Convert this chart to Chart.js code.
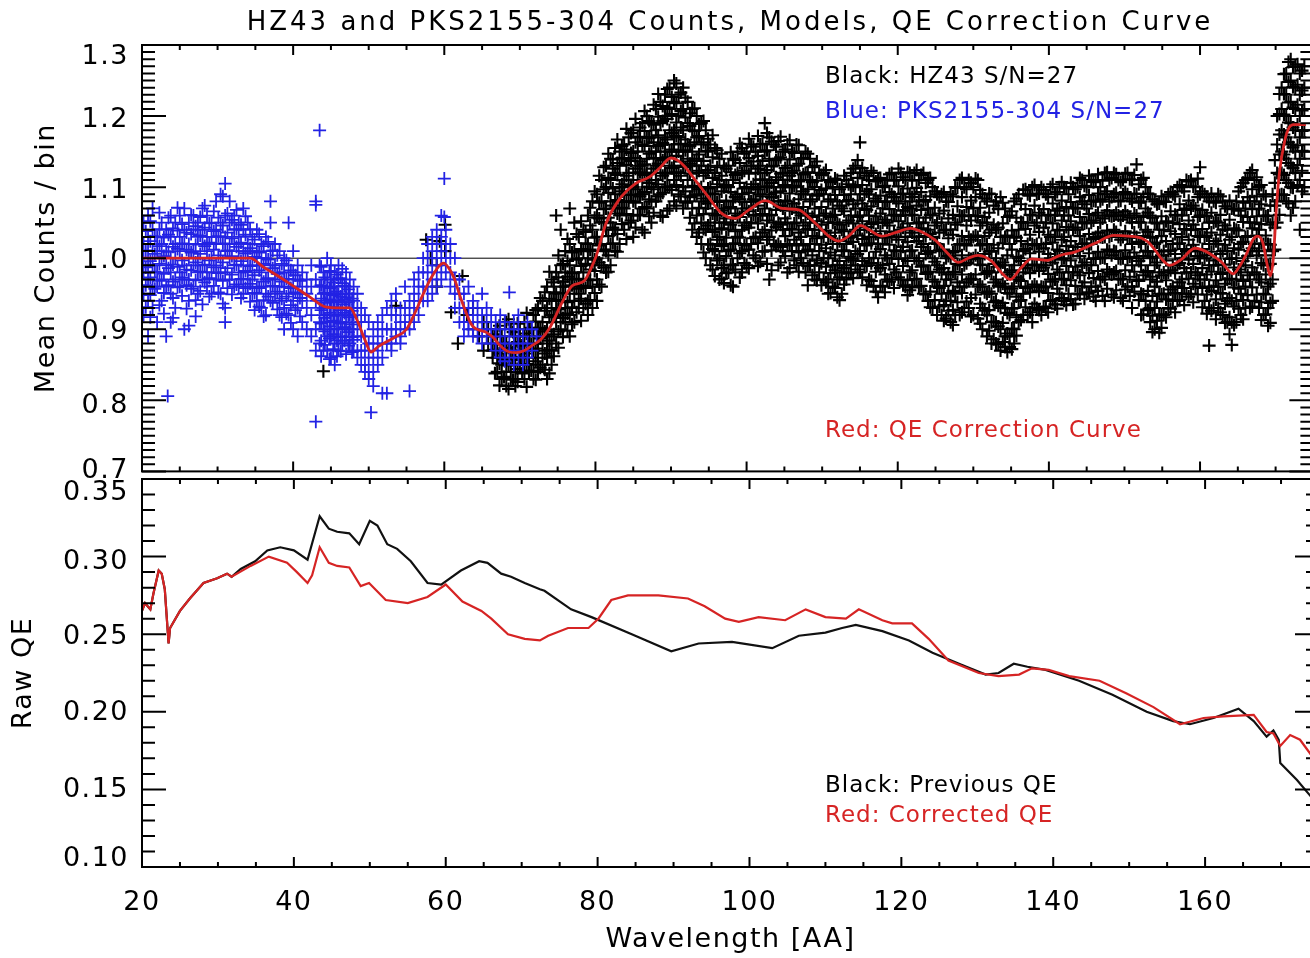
<!DOCTYPE html>
<html>
<head>
<meta charset="utf-8">
<title>HZ43 and PKS2155-304 Counts, Models, QE Correction Curve</title>
<script src="https://cdn.jsdelivr.net/npm/chart.js@4.4.1/dist/chart.umd.min.js"></script>
<style>
  html, body { margin: 0; padding: 0; background: #fff; overflow: hidden; }
  #wrap { position: relative; width: 1310px; height: 958px; overflow: hidden; background: #fff; }
  #wrap canvas { position: absolute; left: 0; }
  #countsChart { top: 0; }
  #qeChart { top: 478px; }
</style>
</head>
<body>
<div id="wrap">
  <canvas id="countsChart" width="1322" height="480"></canvas>
  <canvas id="qeChart" width="1322" height="480"></canvas>
</div>
<script>
// values
const waveMin = 20, waveMax = 175;
const unityLevel = 1.0;

// red QE correction curve, top panel
const corrWave = [20, 24, 28, 32, 34.3, 36, 38, 40, 42, 44.4, 46, 47.5, 48.5, 49.5, 50.3, 51.3, 52.3, 53.5, 55, 56.2,
  57.1, 58.4, 59.9, 60.6, 61.3, 62.2, 63.7, 65.5, 66.5, 67.3, 68.6, 69.5, 70.6, 71.6, 72.8, 73.9, 75.6, 76.9, 78.5, 79.3,
  80.1, 81.4, 83.1, 85.3, 87.1, 88.5, 90.0, 91.0, 91.9, 93.2, 94.6, 96.7, 98.5, 100.3, 102.5, 104.7, 106.9, 108.3, 109.6, 111.0,
  112.2, 113.5, 115.1, 116.2, 117.9, 119.7, 121.7, 123.0, 125.0, 126.5, 128.0, 129.3, 130.6, 132.4, 133.7, 134.9, 136.2, 137.7, 139.8, 141.5,
  143.5, 146.1, 148.6, 150.5, 152.3, 153.2, 154.0, 155.0, 156.0, 157.5, 159.3, 160.2, 161.2, 162.8, 164.4, 165.2, 166.1, 167.0, 167.6, 168.3,
  168.9, 169.3, 169.7, 170.1, 170.5, 171.2, 171.8, 172.4, 174.0];
const corrCounts = [1.0, 1.0, 1.0, 1.0, 1.0, 0.988, 0.975, 0.961, 0.947, 0.931, 0.930, 0.930, 0.912, 0.885, 0.868, 0.876, 0.882, 0.889, 0.900, 0.925,
  0.947, 0.975, 0.993, 0.986, 0.972, 0.943, 0.905, 0.896, 0.888, 0.878, 0.868, 0.867, 0.870, 0.877, 0.886, 0.901, 0.938, 0.961, 0.968, 0.983,
  1.003, 1.049, 1.082, 1.105, 1.114, 1.127, 1.141, 1.137, 1.128, 1.110, 1.091, 1.063, 1.056, 1.068, 1.081, 1.070, 1.068, 1.057, 1.044, 1.030,
  1.024, 1.031, 1.046, 1.040, 1.031, 1.036, 1.042, 1.038, 1.025, 1.008, 0.994, 1.000, 1.004, 0.996, 0.980, 0.970, 0.985, 0.999, 0.997, 1.004,
  1.009, 1.021, 1.032, 1.031, 1.028, 1.022, 1.012, 0.998, 0.990, 0.998, 1.014, 1.012, 1.007, 0.995, 0.978, 0.988, 1.005, 1.026, 1.031, 1.022,
  0.990, 0.975, 1.000, 1.070, 1.120, 1.165, 1.184, 1.188, 1.188];

// previous QE (black) and corrected QE (red), bottom panel
const prevWave = [20, 20.4, 21.1, 21.5, 22.2, 22.6, 23.0, 23.5, 23.7, 25.0, 26.3, 28.1, 29.9, 31.2, 31.8, 33.0, 34.9, 36.5, 38.2, 40.0,
  41.8, 43.4, 44.6, 45.7, 47.3, 48.6, 50.0, 51.0, 52.3, 53.6, 55.4, 57.6, 59.4, 62.0, 64.4, 65.5, 67.3, 68.6, 70.4, 72.4,
  73.0, 76.5, 79.2, 84.5, 89.7, 93.3, 97.7, 103.0, 106.5, 110.0, 112.2, 114.0, 117.5, 121.0, 124.1, 127.6, 131.1, 132.8, 134.8, 136.6,
  139.0, 143.4, 147.8, 152.3, 155.8, 158.0, 161.1, 164.4, 166.4, 168.1, 169.0, 169.7, 169.9, 172.1, 174.0];
const prevQE = [0.265, 0.270, 0.266, 0.276, 0.291, 0.289, 0.279, 0.244, 0.254, 0.265, 0.273, 0.283, 0.286, 0.289, 0.287, 0.292, 0.297, 0.304, 0.306, 0.304,
  0.298, 0.326, 0.318, 0.316, 0.315, 0.308, 0.323, 0.320, 0.308, 0.305, 0.297, 0.283, 0.282, 0.291, 0.297, 0.296, 0.289, 0.287, 0.283, 0.279,
  0.278, 0.266, 0.261, 0.250, 0.239, 0.244, 0.245, 0.241, 0.249, 0.251, 0.254, 0.256, 0.252, 0.246, 0.238, 0.231, 0.224, 0.225, 0.231, 0.229,
  0.227, 0.220, 0.211, 0.200, 0.194, 0.192, 0.196, 0.202, 0.194, 0.184, 0.188, 0.182, 0.167, 0.156, 0.145];
const newWave = [20, 20.4, 21.1, 21.5, 22.2, 22.6, 23.0, 23.5, 23.7, 25.0, 26.3, 28.1, 29.9, 31.2, 31.8, 34.3, 36.7, 39.1, 40.4, 41.8,
  42.4, 43.4, 44.6, 45.7, 47.3, 48.8, 49.9, 52.1, 55.0, 57.6, 60.0, 62.2, 64.7, 66.0, 68.2, 70.4, 72.4, 73.5, 76.1, 78.8,
  80.1, 81.8, 84.0, 88.0, 91.9, 94.1, 96.8, 98.6, 101.2, 104.7, 107.4, 110.0, 112.7, 114.4, 117.5, 118.8, 121.4, 123.6, 126.2, 130.2,
  132.8, 135.5, 137.2, 139.4, 142.1, 146.1, 149.6, 153.2, 156.7, 159.8, 162.4, 166.4, 168.1, 169.0, 169.9, 171.2, 172.5, 174.0];
const newQE = [0.265, 0.270, 0.266, 0.276, 0.291, 0.289, 0.279, 0.244, 0.254, 0.265, 0.273, 0.283, 0.286, 0.289, 0.287, 0.294, 0.300, 0.296, 0.290, 0.283,
  0.288, 0.306, 0.296, 0.294, 0.293, 0.281, 0.283, 0.272, 0.270, 0.274, 0.282, 0.271, 0.265, 0.260, 0.250, 0.247, 0.246, 0.249, 0.254, 0.254,
  0.260, 0.272, 0.275, 0.275, 0.273, 0.268, 0.260, 0.258, 0.261, 0.259, 0.266, 0.261, 0.260, 0.266, 0.259, 0.257, 0.257, 0.247, 0.233, 0.225,
  0.223, 0.224, 0.228, 0.227, 0.223, 0.220, 0.212, 0.203, 0.192, 0.196, 0.197, 0.198, 0.187, 0.186, 0.178, 0.185, 0.182, 0.172];

// PKS2155-304 binned counts (blue), one row per wavelength column: [wave, counts...]
const pksCols = [
  [20.2, 1.05, 1.02, 1.00, 0.98, 0.95, 0.92], [20.8, 1.06, 1.03, 1.01, 0.99, 0.97, 0.94, 0.89],
  [21.4, 1.07, 1.04, 1.01, 0.99, 0.96, 0.93], [22.0, 1.03, 1.01, 0.98, 0.96, 0.91],
  [22.6, 1.05, 1.02, 1.00, 0.97, 0.94], [23.2, 1.04, 1.01, 0.99, 0.96, 0.89], [23.4, 0.806],
  [23.8, 1.06, 1.03, 1.00, 0.98, 0.95, 0.91], [24.4, 1.05, 1.02, 1.00, 0.97, 0.93],
  [25.0, 1.06, 1.03, 1.01, 0.98, 0.96], [25.6, 1.07, 1.04, 1.02, 0.99, 0.97, 0.90],
  [26.2, 1.05, 1.02, 1.00, 0.97, 0.94, 0.905], [26.8, 1.06, 1.04, 1.01, 0.99, 0.96],
  [27.4, 1.05, 1.03, 1.00, 0.98, 0.95], [28.0, 1.07, 1.04, 1.02, 0.99, 0.97, 0.935],
  [28.6, 1.06, 1.03, 1.01, 0.98, 0.96], [29.2, 1.05, 1.03, 1.00, 0.98, 0.95],
  [29.8, 1.08, 1.04, 1.02, 0.99, 0.97], [30.4, 1.09, 1.05, 1.03, 1.00, 0.98, 0.95],
  [31.0, 1.105, 1.06, 1.03, 1.01, 0.98, 0.93, 0.91], [31.6, 1.08, 1.05, 1.02, 1.00, 0.97],
  [32.2, 1.06, 1.04, 1.02, 0.99, 0.96], [32.8, 1.05, 1.03, 1.01, 0.98, 0.96],
  [33.4, 1.07, 1.04, 1.01, 0.99, 0.97, 0.95], [34.0, 1.05, 1.02, 1.00, 0.98, 0.96],
  [34.6, 1.03, 1.01, 0.99, 0.97, 0.95], [35.2, 1.04, 1.01, 0.99, 0.96, 0.94],
  [35.8, 1.02, 1.00, 0.98, 0.96, 0.93], [36.4, 1.03, 1.00, 0.97, 0.95, 0.92],
  [37.0, 1.08, 1.05, 1.01, 0.99, 0.96, 0.94], [37.6, 1.02, 0.99, 0.97, 0.95],
  [38.2, 1.01, 0.98, 0.96, 0.94, 0.92], [38.8, 1.00, 0.98, 0.96, 0.93, 0.90],
  [39.4, 1.05, 0.99, 0.97, 0.95, 0.92], [40.0, 1.01, 0.98, 0.96, 0.94, 0.90],
  [40.6, 0.99, 0.97, 0.95, 0.93, 0.89], [41.2, 0.98, 0.96, 0.94, 0.91],
  [41.8, 0.97, 0.95, 0.93, 0.90], [42.4, 0.99, 0.96, 0.92, 0.89],
  [43.0, 1.08, 1.075, 0.97, 0.94, 0.90, 0.87, 0.77], [43.5, 1.18, 0.99, 0.96, 0.93, 0.91, 0.88],
  [44.0, 0.98, 0.96, 0.95, 0.93, 0.92, 0.90, 0.87], [44.5, 1.00, 0.97, 0.95, 0.94, 0.92, 0.91, 0.89, 0.87],
  [45.0, 0.99, 0.97, 0.96, 0.94, 0.93, 0.91, 0.89, 0.86], [45.5, 0.98, 0.96, 0.95, 0.93, 0.92, 0.90, 0.88, 0.85],
  [46.0, 0.99, 0.97, 0.95, 0.94, 0.92, 0.91, 0.89, 0.87], [46.5, 0.985, 0.965, 0.95, 0.935, 0.92, 0.90, 0.88],
  [47.0, 0.98, 0.96, 0.945, 0.93, 0.91, 0.89, 0.865], [47.5, 0.97, 0.95, 0.93, 0.92, 0.90, 0.88],
  [48.0, 0.96, 0.94, 0.92, 0.90, 0.885, 0.87], [48.5, 0.95, 0.93, 0.91, 0.89, 0.87, 0.86],
  [49.0, 0.93, 0.91, 0.89, 0.87, 0.85], [49.5, 0.92, 0.89, 0.87, 0.85, 0.84],
  [50.0, 0.91, 0.88, 0.86, 0.84, 0.83], [50.3, 0.783], [50.6, 0.90, 0.88, 0.86, 0.84, 0.82],
  [51.2, 0.91, 0.89, 0.87, 0.85], [51.8, 0.92, 0.90, 0.88, 0.86, 0.81],
  [52.4, 0.93, 0.90, 0.88, 0.81], [53.0, 0.94, 0.92, 0.90, 0.88, 0.87],
  [53.6, 0.95, 0.92, 0.90, 0.89], [54.2, 0.93, 0.91, 0.89, 0.88],
  [54.8, 0.96, 0.93, 0.91, 0.90], [55.4, 0.94, 0.92, 0.90, 0.813],
  [56.0, 0.97, 0.95, 0.93, 0.91], [56.6, 0.98, 0.96, 0.94, 0.92],
  [57.2, 1.00, 0.98, 0.96, 0.94], [57.8, 1.02, 1.00, 0.98, 0.96, 0.94],
  [58.4, 1.03, 1.01, 0.99, 0.97, 0.95], [59.0, 1.04, 1.02, 1.00, 0.98, 0.96],
  [59.6, 1.06, 1.03, 1.01, 0.99, 0.97], [60.0, 1.112, 1.058],
  [60.2, 1.04, 1.02, 1.00, 0.98], [60.8, 1.02, 1.00, 0.98, 0.96],
  [61.4, 1.00, 0.97, 0.95, 0.93], [62.0, 0.97, 0.95, 0.93, 0.91],
  [62.6, 0.95, 0.93, 0.91, 0.89], [63.2, 0.96, 0.93, 0.91, 0.90],
  [63.8, 0.94, 0.92, 0.90, 0.89], [64.4, 0.93, 0.91, 0.89],
  [65.0, 0.95, 0.92, 0.90, 0.88], [65.6, 0.93, 0.91, 0.89],
  [66.2, 0.92, 0.90, 0.88], [66.8, 0.91, 0.89, 0.87],
  [67.4, 0.92, 0.90, 0.88, 0.86], [68.0, 0.91, 0.89, 0.87, 0.855],
  [68.6, 0.952, 0.90, 0.88, 0.86], [69.2, 0.91, 0.89, 0.87, 0.85],
  [69.8, 0.92, 0.90, 0.88, 0.86], [70.4, 0.89, 0.87, 0.85],
  [71.0, 0.91, 0.88, 0.86], [71.6, 0.90, 0.87], [72.2, 0.89]
];
// second pass of PKS2155-304 columns, read between the ones above
const pksColsB = [
  [20.5, 1.038, 1.011, 0.987, 0.962, 0.931], [21.1, 1.052, 1.024, 0.996, 0.973, 0.948, 0.917],
  [21.7, 1.031, 1.006, 0.981, 0.957], [22.3, 1.064, 1.041, 1.017, 0.992, 0.968, 0.934],
  [22.9, 1.029, 1.003, 0.978, 0.951, 0.922], [23.5, 1.057, 1.033, 1.009, 0.986, 0.962],
  [24.1, 1.042, 1.016, 0.991, 0.967, 0.944, 0.916], [24.7, 1.071, 1.039, 1.013, 0.988, 0.959],
  [25.3, 1.048, 1.021, 0.997, 0.973, 0.947], [25.9, 1.036, 1.012, 0.984, 0.962, 0.929],
  [26.5, 1.061, 1.034, 1.008, 0.983, 0.957], [27.1, 1.045, 1.019, 0.994, 0.969, 0.941, 0.918],
  [27.7, 1.058, 1.032, 1.006, 0.981, 0.954], [28.3, 1.074, 1.043, 1.017, 0.991, 0.966],
  [28.9, 1.049, 1.022, 0.997, 0.972, 0.946], [29.5, 1.066, 1.038, 1.012, 0.987, 0.961],
  [30.1, 1.057, 1.031, 1.004, 0.979, 0.952], [30.7, 1.087, 1.046, 1.021, 0.994, 0.968, 0.936],
  [31.3, 1.063, 1.036, 1.011, 0.986, 0.958], [31.9, 1.054, 1.028, 1.003, 0.977, 0.949],
  [32.5, 1.068, 1.041, 1.016, 0.991, 0.963], [33.1, 1.047, 1.022, 0.996, 0.971, 0.944],
  [33.7, 1.059, 1.033, 1.007, 0.982, 0.958], [34.3, 1.041, 1.014, 0.989, 0.964, 0.939],
  [34.9, 1.026, 1.002, 0.976, 0.951, 0.927], [35.5, 1.034, 1.008, 0.983, 0.958, 0.932],
  [36.1, 1.017, 0.992, 0.967, 0.941, 0.918], [36.7, 1.023, 0.998, 0.972, 0.946],
  [37.3, 1.011, 0.986, 0.961, 0.937], [37.9, 1.004, 0.978, 0.953, 0.928],
  [38.5, 0.992, 0.967, 0.943, 0.917], [39.1, 0.997, 0.971, 0.946, 0.922],
  [39.7, 0.983, 0.958, 0.934, 0.909], [40.3, 0.976, 0.952, 0.927], [40.9, 0.968, 0.944, 0.918],
  [43.7, 0.988, 0.962, 0.943, 0.927, 0.908, 0.884, 0.862], [44.2, 0.973, 0.951, 0.937, 0.916, 0.897, 0.878],
  [44.8, 0.982, 0.958, 0.942, 0.923, 0.904, 0.887, 0.858], [45.3, 0.966, 0.948, 0.931, 0.912, 0.893, 0.872],
  [45.8, 0.977, 0.953, 0.938, 0.919, 0.901, 0.884, 0.862], [46.3, 0.972, 0.946, 0.927, 0.908, 0.889, 0.869],
  [46.8, 0.961, 0.942, 0.923, 0.903, 0.884], [47.3, 0.956, 0.938, 0.917, 0.896, 0.877],
  [47.8, 0.943, 0.926, 0.907, 0.889, 0.868]
];

// HZ43 binned counts (black), one row per wavelength column: [wave, counts...]
const hzCols = [
  [44.0, 0.841], [53.6, 0.933], [57.6, 1.026], [58.2, 1.00], [59.0, 0.99, 0.96], [59.4, 1.024],
  [60.1, 1.047, 1.01], [60.9, 0.924], [61.8, 0.88], [62.4, 0.975], [63.0, 0.92], [63.8, 0.90, 0.93],
  [64.6, 0.89], [65.2, 0.91, 0.87], [65.8, 0.90, 0.88], [66.4, 0.89, 0.87, 0.86],
  [67.0, 0.90, 0.88, 0.86, 0.84], [67.6, 0.89, 0.87, 0.85, 0.83], [68.2, 0.91, 0.88, 0.86, 0.84, 0.82],
  [68.8, 0.90, 0.87, 0.85, 0.83], [69.4, 0.89, 0.87, 0.86, 0.84, 0.82], [70.0, 0.90, 0.88, 0.86, 0.85],
  [70.6, 0.91, 0.89, 0.87, 0.85, 0.83], [71.2, 0.90, 0.88, 0.86, 0.84], [71.8, 0.92, 0.89, 0.87, 0.85, 0.83],
  [72.4, 0.93, 0.90, 0.88, 0.86, 0.84], [73.0, 0.94, 0.91, 0.89, 0.87, 0.85],
  [73.6, 0.96, 0.93, 0.90, 0.88, 0.86, 0.83], [74.2, 0.97, 0.94, 0.92, 0.89, 0.87, 0.85],
  [74.8, 1.06, 0.98, 0.95, 0.93, 0.91, 0.88], [75.4, 1.04, 0.99, 0.96, 0.94, 0.92, 0.90],
  [76.0, 1.01, 0.98, 0.96, 0.93, 0.91], [76.6, 1.07, 1.02, 0.99, 0.97, 0.95, 0.92, 0.89],
  [77.2, 1.05, 1.01, 0.98, 0.96, 0.94, 0.91], [77.8, 1.03, 1.00, 0.97, 0.95, 0.93],
  [78.4, 1.04, 1.01, 0.98, 0.96, 0.93], [79.0, 1.06, 1.02, 1.00, 0.97, 0.94, 0.92],
  [79.6, 1.08, 1.04, 1.01, 0.99, 0.96, 0.93], [80.2, 1.09, 1.06, 1.03, 1.00, 0.97, 0.94],
  [80.8, 1.11, 1.08, 1.05, 1.02, 0.99, 0.96], [81.4, 1.13, 1.10, 1.07, 1.04, 1.01, 0.98],
  [82.0, 1.14, 1.11, 1.08, 1.05, 1.02, 0.99], [82.6, 1.155, 1.12, 1.09, 1.07, 1.04, 1.01],
  [83.2, 1.15, 1.13, 1.10, 1.08, 1.06, 1.02], [83.8, 1.16, 1.14, 1.11, 1.09, 1.07, 1.04],
  [84.4, 1.17, 1.14, 1.12, 1.10, 1.08, 1.05], [85.0, 1.18, 1.15, 1.12, 1.10, 1.08, 1.06, 1.03],
  [85.6, 1.17, 1.15, 1.13, 1.11, 1.09, 1.06], [86.2, 1.19, 1.16, 1.13, 1.11, 1.09, 1.07, 1.04],
  [86.8, 1.20, 1.17, 1.14, 1.12, 1.10, 1.07], [87.4, 1.19, 1.17, 1.15, 1.12, 1.10, 1.08, 1.05],
  [88.0, 1.21, 1.18, 1.15, 1.13, 1.11, 1.08], [88.6, 1.22, 1.19, 1.16, 1.14, 1.12, 1.09, 1.06],
  [89.2, 1.23, 1.20, 1.17, 1.15, 1.12, 1.10], [89.8, 1.24, 1.21, 1.18, 1.15, 1.13, 1.10, 1.07],
  [90.4, 1.25, 1.22, 1.18, 1.16, 1.13, 1.11, 1.08], [91.0, 1.23, 1.20, 1.17, 1.15, 1.12, 1.09],
  [91.6, 1.24, 1.21, 1.18, 1.15, 1.13, 1.10, 1.07], [92.2, 1.22, 1.19, 1.16, 1.14, 1.11, 1.08],
  [92.8, 1.21, 1.18, 1.15, 1.13, 1.10, 1.07, 1.04], [93.4, 1.20, 1.17, 1.14, 1.12, 1.09, 1.06, 1.03],
  [94.0, 1.19, 1.16, 1.13, 1.10, 1.08, 1.05, 1.02], [94.6, 1.18, 1.15, 1.12, 1.09, 1.07, 1.04, 1.00],
  [95.2, 1.16, 1.13, 1.10, 1.08, 1.05, 1.02, 0.99], [95.8, 1.155, 1.12, 1.09, 1.06, 1.04, 1.01, 0.975],
  [96.4, 1.14, 1.11, 1.08, 1.05, 1.03, 1.00, 0.97], [97.0, 1.13, 1.10, 1.07, 1.05, 1.02, 0.99, 0.965],
  [97.6, 1.13, 1.10, 1.07, 1.04, 1.01, 0.98], [98.2, 1.14, 1.11, 1.08, 1.05, 1.02, 0.99, 0.96],
  [98.8, 1.15, 1.12, 1.09, 1.06, 1.03, 1.00], [99.4, 1.155, 1.12, 1.09, 1.07, 1.04, 1.01, 0.98],
  [100.0, 1.15, 1.13, 1.10, 1.07, 1.05, 1.02, 0.99], [100.6, 1.16, 1.13, 1.10, 1.08, 1.05, 1.02],
  [101.2, 1.15, 1.12, 1.10, 1.08, 1.06, 1.03, 1.00], [101.8, 1.16, 1.13, 1.11, 1.09, 1.06, 1.03, 0.995],
  [102.4, 1.19, 1.15, 1.12, 1.10, 1.07, 1.04, 1.01], [103.0, 1.17, 1.14, 1.11, 1.09, 1.06, 1.03, 0.97],
  [103.6, 1.16, 1.13, 1.10, 1.08, 1.05, 1.02], [104.2, 1.165, 1.14, 1.11, 1.08, 1.05, 1.02, 0.99],
  [104.8, 1.15, 1.12, 1.10, 1.07, 1.04, 1.01], [105.4, 1.16, 1.13, 1.11, 1.08, 1.05, 1.02, 0.98],
  [106.0, 1.15, 1.12, 1.10, 1.07, 1.04, 1.01], [106.6, 1.16, 1.13, 1.10, 1.07, 1.05, 1.02, 0.99],
  [107.2, 1.14, 1.11, 1.09, 1.06, 1.03, 1.00], [107.8, 1.15, 1.12, 1.09, 1.06, 1.04, 1.01, 0.98],
  [108.4, 1.14, 1.11, 1.08, 1.05, 1.02, 0.99], [109.0, 1.13, 1.10, 1.07, 1.04, 1.02, 0.99, 0.97],
  [109.6, 1.12, 1.09, 1.06, 1.04, 1.01, 0.98], [110.2, 1.12, 1.09, 1.06, 1.03, 1.00, 0.97],
  [110.8, 1.11, 1.08, 1.05, 1.03, 1.00, 0.97, 0.95], [111.4, 1.10, 1.07, 1.05, 1.02, 0.99, 0.96],
  [112.0, 1.11, 1.08, 1.05, 1.02, 0.99, 0.97, 0.945], [112.6, 1.10, 1.07, 1.04, 1.01, 0.98, 0.95],
  [113.2, 1.11, 1.08, 1.05, 1.02, 0.99, 0.97], [113.8, 1.12, 1.09, 1.06, 1.03, 1.00, 0.98],
  [114.4, 1.13, 1.10, 1.07, 1.04, 1.01, 0.99], [115.0, 1.163, 1.12, 1.09, 1.06, 1.04, 1.01, 0.98],
  [115.6, 1.12, 1.09, 1.07, 1.04, 1.02, 0.99], [116.2, 1.11, 1.09, 1.06, 1.03, 1.00, 0.97],
  [116.8, 1.12, 1.08, 1.05, 1.03, 1.00, 0.96], [117.4, 1.11, 1.08, 1.05, 1.02, 0.99, 0.945],
  [118.0, 1.10, 1.07, 1.05, 1.02, 0.99, 0.96], [118.6, 1.11, 1.08, 1.05, 1.03, 1.00, 0.97],
  [119.2, 1.12, 1.09, 1.06, 1.03, 1.00, 0.97], [119.8, 1.11, 1.08, 1.06, 1.03, 1.01, 0.98],
  [120.4, 1.12, 1.09, 1.06, 1.04, 1.01, 0.97], [121.0, 1.11, 1.08, 1.06, 1.03, 1.00, 0.96],
  [121.6, 1.12, 1.09, 1.07, 1.04, 1.01, 0.98, 0.955], [122.2, 1.12, 1.09, 1.06, 1.03, 1.00, 0.97],
  [122.8, 1.11, 1.08, 1.05, 1.03, 1.00, 0.96], [123.4, 1.12, 1.08, 1.05, 1.02, 0.99, 0.95],
  [124.0, 1.11, 1.07, 1.04, 1.01, 0.98, 0.94], [124.6, 1.10, 1.06, 1.03, 1.00, 0.97, 0.93],
  [125.2, 1.09, 1.05, 1.02, 0.99, 0.96, 0.92], [125.8, 1.09, 1.05, 1.01, 0.98, 0.95, 0.92],
  [126.4, 1.08, 1.04, 1.00, 0.97, 0.94, 0.915], [127.0, 1.09, 1.04, 1.00, 0.97, 0.94, 0.91],
  [127.6, 1.10, 1.05, 1.01, 0.98, 0.95, 0.92], [128.2, 1.11, 1.06, 1.02, 0.99, 0.96, 0.92],
  [128.8, 1.10, 1.06, 1.02, 0.99, 0.96, 0.93], [129.4, 1.11, 1.06, 1.03, 1.00, 0.97, 0.93],
  [130.0, 1.10, 1.07, 1.03, 1.00, 0.97, 0.92], [130.6, 1.11, 1.06, 1.03, 1.00, 0.96, 0.915],
  [131.2, 1.09, 1.05, 1.02, 0.99, 0.96, 0.93, 0.90], [131.8, 1.08, 1.05, 1.02, 0.98, 0.95, 0.92, 0.89],
  [132.4, 1.09, 1.04, 1.01, 0.98, 0.95, 0.91, 0.88], [133.0, 1.08, 1.04, 1.00, 0.97, 0.94, 0.91, 0.88],
  [133.6, 1.086, 1.03, 0.99, 0.96, 0.93, 0.90, 0.87], [134.2, 1.07, 1.03, 0.99, 0.96, 0.93, 0.89, 0.875],
  [134.8, 1.06, 1.02, 0.98, 0.95, 0.92, 0.89, 0.875], [135.4, 1.08, 1.03, 0.99, 0.96, 0.93, 0.90, 0.88],
  [136.0, 1.09, 1.04, 1.00, 0.97, 0.94, 0.91], [136.6, 1.096, 1.05, 1.01, 0.98, 0.95, 0.92],
  [137.2, 1.09, 1.05, 1.02, 0.99, 0.96, 0.92], [137.8, 1.10, 1.06, 1.02, 0.99, 0.96, 0.93, 0.91],
  [138.4, 1.09, 1.05, 1.02, 0.99, 0.96, 0.93], [139.0, 1.10, 1.06, 1.02, 0.99, 0.96, 0.92],
  [139.6, 1.09, 1.05, 1.02, 0.99, 0.96, 0.93], [140.2, 1.10, 1.06, 1.03, 1.00, 0.97, 0.94],
  [140.8, 1.09, 1.06, 1.03, 1.00, 0.97, 0.935], [141.4, 1.10, 1.07, 1.04, 1.01, 0.98, 0.95],
  [142.0, 1.10, 1.06, 1.03, 1.00, 0.97, 0.94], [142.6, 1.09, 1.06, 1.04, 1.01, 0.98, 0.95],
  [143.2, 1.10, 1.07, 1.04, 1.01, 0.98, 0.935], [143.8, 1.10, 1.07, 1.04, 1.01, 0.98, 0.95],
  [144.4, 1.11, 1.08, 1.05, 1.02, 0.99, 0.96], [145.0, 1.10, 1.07, 1.05, 1.02, 0.99, 0.95],
  [145.6, 1.11, 1.08, 1.05, 1.02, 0.99, 0.96], [146.2, 1.11, 1.08, 1.06, 1.03, 1.00, 0.96, 0.94],
  [146.8, 1.10, 1.08, 1.05, 1.03, 1.00, 0.97], [147.4, 1.12, 1.09, 1.06, 1.03, 1.00, 0.97, 0.94],
  [148.0, 1.11, 1.08, 1.06, 1.03, 1.01, 0.98], [148.6, 1.12, 1.09, 1.06, 1.04, 1.01, 0.98, 0.945],
  [149.2, 1.11, 1.08, 1.06, 1.03, 1.00, 0.97], [149.8, 1.11, 1.09, 1.06, 1.03, 1.00, 0.97, 0.94],
  [150.4, 1.12, 1.09, 1.06, 1.03, 1.00, 0.96], [151.0, 1.11, 1.08, 1.05, 1.02, 0.99, 0.96, 0.93],
  [151.6, 1.132, 1.09, 1.06, 1.03, 1.00, 0.97], [152.2, 1.11, 1.08, 1.05, 1.02, 0.99, 0.95, 0.92],
  [152.8, 1.10, 1.07, 1.04, 1.01, 0.98, 0.94], [153.4, 1.09, 1.06, 1.03, 1.00, 0.97, 0.93, 0.91],
  [154.0, 1.08, 1.05, 1.02, 0.99, 0.96, 0.93, 0.90], [154.6, 1.077, 1.04, 1.01, 0.98, 0.95, 0.92, 0.895],
  [155.2, 1.08, 1.04, 1.01, 0.98, 0.95, 0.92], [155.8, 1.09, 1.05, 1.01, 0.98, 0.95, 0.93],
  [156.4, 1.09, 1.05, 1.02, 0.99, 0.96, 0.94], [157.0, 1.10, 1.06, 1.02, 0.99, 0.96, 0.94],
  [157.6, 1.10, 1.06, 1.03, 1.00, 0.97, 0.95], [158.2, 1.11, 1.07, 1.04, 1.01, 0.98, 0.95],
  [158.8, 1.11, 1.07, 1.04, 1.01, 0.98, 0.95], [159.4, 1.10, 1.07, 1.04, 1.01, 0.98, 0.96],
  [160.0, 1.128, 1.09, 1.06, 1.03, 1.00, 0.97], [160.6, 1.09, 1.06, 1.03, 1.00, 0.97, 0.94],
  [161.2, 1.08, 1.05, 1.02, 0.99, 0.96, 0.93, 0.877], [161.8, 1.08, 1.05, 1.02, 0.99, 0.96, 0.93],
  [162.4, 1.09, 1.05, 1.02, 0.99, 0.96, 0.93], [163.0, 1.08, 1.04, 1.01, 0.98, 0.95, 0.92],
  [163.6, 1.07, 1.04, 1.01, 0.97, 0.94, 0.91], [164.2, 1.07, 1.03, 1.00, 0.97, 0.94, 0.91, 0.878],
  [164.8, 1.08, 1.04, 1.00, 0.97, 0.94, 0.91], [165.4, 1.10, 1.06, 1.02, 0.98, 0.95, 0.92],
  [166.0, 1.11, 1.07, 1.03, 0.99, 0.96, 0.93], [166.6, 1.12, 1.08, 1.05, 1.01, 0.97, 0.93],
  [167.2, 1.11, 1.08, 1.05, 1.02, 0.98, 0.94], [167.8, 1.10, 1.07, 1.04, 1.01, 0.97, 0.93],
  [168.4, 1.09, 1.06, 1.02, 0.99, 0.95, 0.92], [169.0, 1.06, 1.02, 0.99, 0.96, 0.93, 0.905],
  [169.6, 1.09, 1.05, 1.01, 0.97, 0.94], [170.2, 1.20, 1.16, 1.12, 1.08, 1.05],
  [170.8, 1.24, 1.21, 1.18, 1.15, 1.12, 1.09], [171.4, 1.26, 1.23, 1.20, 1.17, 1.14, 1.11, 1.08],
  [172.0, 1.28, 1.25, 1.22, 1.19, 1.16, 1.13, 1.10, 1.06], [172.6, 1.27, 1.24, 1.21, 1.18, 1.15, 1.12, 1.08],
  [173.2, 1.26, 1.23, 1.20, 1.17, 1.14, 1.11, 1.04], [173.8, 1.27, 1.24, 1.21, 1.18, 1.15, 1.10]
];
// second pass of HZ43 columns, read between the ones above
const hzColsB = [
  [66.7, 0.893, 0.871, 0.838], [67.3, 0.905, 0.866, 0.852, 0.821], [67.9, 0.881, 0.857, 0.833],
  [68.5, 0.914, 0.874, 0.849, 0.816], [69.1, 0.896, 0.868, 0.857, 0.829], [69.7, 0.908, 0.882, 0.844, 0.826],
  [70.3, 0.877, 0.861, 0.838], [70.9, 0.923, 0.894, 0.866, 0.851, 0.819], [71.5, 0.902, 0.879, 0.842],
  [72.1, 0.927, 0.911, 0.873, 0.855, 0.829], [72.7, 0.944, 0.902, 0.887, 0.846],
  [73.3, 0.952, 0.926, 0.897, 0.866, 0.843], [73.9, 0.981, 0.943, 0.917, 0.884, 0.871, 0.838],
  [74.5, 0.966, 0.952, 0.918, 0.893, 0.862], [75.1, 1.004, 0.973, 0.941, 0.928, 0.897, 0.874],
  [75.7, 0.992, 0.967, 0.951, 0.916, 0.889], [76.3, 1.027, 0.996, 0.974, 0.938, 0.922, 0.898],
  [76.9, 1.008, 0.979, 0.962, 0.931, 0.907], [77.5, 1.034, 0.998, 0.971, 0.957, 0.924],
  [78.1, 1.052, 1.013, 0.989, 0.961, 0.943, 0.912], [78.7, 1.037, 1.021, 0.992, 0.958, 0.936],
  [79.3, 1.071, 1.046, 1.012, 0.984, 0.969, 0.941], [79.9, 1.094, 1.057, 1.029, 0.998, 0.982, 0.951],
  [80.5, 1.116, 1.078, 1.056, 1.018, 0.994, 0.963], [81.1, 1.128, 1.097, 1.069, 1.051, 1.012, 0.987],
  [81.7, 1.147, 1.113, 1.092, 1.057, 1.031, 1.004, 0.981], [82.3, 1.139, 1.126, 1.098, 1.074, 1.043, 1.021],
  [82.9, 1.167, 1.134, 1.117, 1.082, 1.063, 1.034, 1.009], [83.5, 1.158, 1.141, 1.104, 1.094, 1.071, 1.048],
  [84.1, 1.182, 1.153, 1.131, 1.116, 1.079, 1.062, 1.027], [84.7, 1.176, 1.148, 1.137, 1.103, 1.089, 1.053],
  [85.3, 1.196, 1.163, 1.141, 1.126, 1.097, 1.078, 1.043], [85.9, 1.184, 1.171, 1.136, 1.121, 1.087, 1.061],
  [86.5, 1.207, 1.179, 1.158, 1.132, 1.117, 1.093, 1.072, 1.036], [87.1, 1.193, 1.169, 1.147, 1.106, 1.083, 1.059],
  [87.7, 1.216, 1.188, 1.163, 1.141, 1.126, 1.097, 1.064], [88.3, 1.231, 1.199, 1.173, 1.158, 1.133, 1.104, 1.087],
  [88.9, 1.214, 1.193, 1.162, 1.138, 1.116, 1.092, 1.058], [89.5, 1.238, 1.212, 1.196, 1.167, 1.142, 1.119, 1.101, 1.067],
  [90.1, 1.227, 1.203, 1.176, 1.153, 1.127, 1.096], [90.7, 1.246, 1.218, 1.191, 1.172, 1.144, 1.121, 1.103, 1.074],
  [91.3, 1.233, 1.207, 1.184, 1.161, 1.136, 1.116, 1.087], [91.9, 1.226, 1.198, 1.167, 1.152, 1.128, 1.094, 1.078],
  [92.5, 1.204, 1.186, 1.158, 1.133, 1.119, 1.086, 1.057], [93.1, 1.211, 1.179, 1.163, 1.137, 1.102, 1.088, 1.049],
  [93.7, 1.189, 1.172, 1.146, 1.123, 1.097, 1.071, 1.036], [94.3, 1.193, 1.163, 1.137, 1.116, 1.084, 1.062, 1.041, 1.008],
  [94.9, 1.168, 1.151, 1.124, 1.098, 1.077, 1.046, 1.019], [95.5, 1.173, 1.142, 1.113, 1.091, 1.063, 1.037, 1.013, 0.984],
  [96.1, 1.152, 1.128, 1.104, 1.079, 1.061, 1.026, 0.997], [96.7, 1.147, 1.116, 1.094, 1.067, 1.042, 1.017, 0.986, 0.971],
  [97.3, 1.126, 1.103, 1.081, 1.056, 1.029, 1.003, 0.979], [97.9, 1.149, 1.121, 1.093, 1.072, 1.047, 1.012, 0.991, 0.962],
  [98.5, 1.138, 1.117, 1.086, 1.063, 1.038, 1.021, 0.984], [99.1, 1.161, 1.134, 1.106, 1.083, 1.058, 1.029, 1.007, 0.973],
  [99.7, 1.147, 1.123, 1.098, 1.079, 1.046, 1.018, 0.993], [100.3, 1.168, 1.141, 1.119, 1.092, 1.066, 1.043, 1.012, 0.986],
  [100.9, 1.157, 1.136, 1.104, 1.083, 1.061, 1.028, 1.004], [101.5, 1.172, 1.144, 1.126, 1.097, 1.074, 1.049, 1.021, 0.989],
  [102.1, 1.161, 1.137, 1.111, 1.087, 1.062, 1.036, 1.009], [102.7, 1.176, 1.152, 1.124, 1.101, 1.079, 1.053, 1.026, 0.992],
  [103.3, 1.164, 1.129, 1.106, 1.086, 1.061, 1.039, 1.011, 0.983], [103.9, 1.157, 1.138, 1.114, 1.092, 1.068, 1.044, 1.017],
  [104.5, 1.171, 1.142, 1.119, 1.094, 1.074, 1.047, 1.016, 0.994], [105.1, 1.153, 1.127, 1.103, 1.081, 1.056, 1.031, 1.003],
  [105.7, 1.166, 1.139, 1.116, 1.091, 1.067, 1.041, 1.018, 0.986], [106.3, 1.148, 1.123, 1.102, 1.077, 1.049, 1.026, 0.997],
  [106.9, 1.159, 1.133, 1.108, 1.083, 1.064, 1.036, 1.008, 0.981], [107.5, 1.141, 1.118, 1.094, 1.072, 1.046, 1.018, 0.993],
  [108.1, 1.147, 1.121, 1.097, 1.063, 1.041, 1.012, 0.989, 0.962], [108.7, 1.128, 1.107, 1.083, 1.058, 1.031, 1.004, 0.976],
  [109.3, 1.136, 1.109, 1.088, 1.052, 1.028, 0.997, 0.969], [109.9, 1.117, 1.096, 1.072, 1.047, 1.019, 0.993, 0.962],
  [110.5, 1.124, 1.098, 1.063, 1.039, 1.014, 0.988, 0.966], [111.1, 1.107, 1.083, 1.058, 1.031, 1.008, 0.979, 0.951],
  [111.7, 1.112, 1.089, 1.061, 1.036, 1.004, 0.983, 0.958], [112.3, 1.097, 1.074, 1.047, 1.024, 0.996, 0.973, 0.941],
  [112.9, 1.116, 1.089, 1.066, 1.038, 1.011, 0.986, 0.963], [113.5, 1.104, 1.082, 1.053, 1.029, 1.002, 0.979],
  [114.1, 1.126, 1.102, 1.076, 1.049, 1.023, 0.997, 0.972], [114.7, 1.138, 1.113, 1.081, 1.058, 1.032, 1.006, 0.984],
  [115.3, 1.127, 1.103, 1.077, 1.052, 1.027, 0.996, 0.973], [115.9, 1.116, 1.094, 1.068, 1.044, 1.018, 0.989, 0.962],
  [116.5, 1.123, 1.097, 1.073, 1.048, 1.021, 0.993, 0.968], [117.1, 1.108, 1.084, 1.059, 1.034, 1.009, 0.981, 0.953],
  [117.7, 1.113, 1.088, 1.063, 1.038, 1.013, 0.986, 0.961], [118.3, 1.102, 1.079, 1.054, 1.029, 1.004, 0.977, 0.952],
  [118.9, 1.118, 1.093, 1.069, 1.046, 1.019, 0.992, 0.967], [119.5, 1.109, 1.086, 1.061, 1.037, 1.011, 0.984, 0.958],
  [120.1, 1.126, 1.101, 1.077, 1.052, 1.026, 0.999, 0.973], [120.7, 1.114, 1.091, 1.067, 1.043, 1.016, 0.989, 0.962],
  [121.3, 1.121, 1.098, 1.072, 1.049, 1.023, 0.996, 0.969, 0.948], [121.9, 1.109, 1.086, 1.061, 1.036, 1.011, 0.983, 0.959],
  [122.5, 1.124, 1.099, 1.074, 1.049, 1.024, 0.996, 0.971], [123.1, 1.117, 1.093, 1.068, 1.042, 1.016, 0.988, 0.961],
  [123.7, 1.106, 1.082, 1.057, 1.031, 1.006, 0.978, 0.949], [124.3, 1.113, 1.087, 1.061, 1.034, 1.008, 0.981, 0.953, 0.931],
  [124.9, 1.094, 1.071, 1.046, 1.021, 0.995, 0.967, 0.941], [125.5, 1.086, 1.063, 1.036, 1.011, 0.984, 0.958, 0.932],
  [126.1, 1.093, 1.067, 1.039, 1.012, 0.986, 0.961, 0.934, 0.912], [126.7, 1.079, 1.056, 1.028, 1.003, 0.977, 0.951, 0.926],
  [127.3, 1.087, 1.061, 1.033, 1.008, 0.981, 0.954, 0.927, 0.906], [127.9, 1.099, 1.073, 1.047, 1.019, 0.992, 0.966, 0.938],
  [128.5, 1.113, 1.086, 1.059, 1.031, 1.004, 0.977, 0.951, 0.924], [129.1, 1.097, 1.072, 1.046, 1.018, 0.993, 0.966, 0.939],
  [129.7, 1.106, 1.081, 1.053, 1.026, 0.999, 0.971, 0.944, 0.918], [130.3, 1.112, 1.086, 1.059, 1.032, 1.004, 0.977, 0.949],
  [130.9, 1.096, 1.071, 1.046, 1.018, 0.991, 0.963, 0.936, 0.908], [131.5, 1.084, 1.058, 1.031, 1.006, 0.978, 0.952, 0.926],
  [132.1, 1.091, 1.064, 1.036, 1.009, 0.982, 0.953, 0.927, 0.898], [132.7, 1.074, 1.047, 1.019, 0.992, 0.966, 0.938, 0.911, 0.886],
  [133.3, 1.069, 1.043, 1.014, 0.988, 0.961, 0.933, 0.904, 0.879], [133.9, 1.078, 1.049, 1.021, 0.994, 0.964, 0.937, 0.909, 0.882],
  [134.5, 1.058, 1.032, 1.004, 0.977, 0.951, 0.923, 0.894, 0.868], [135.1, 1.066, 1.039, 1.012, 0.983, 0.957, 0.929, 0.901, 0.872],
  [135.7, 1.084, 1.057, 1.029, 1.002, 0.973, 0.946, 0.917, 0.891], [136.3, 1.076, 1.051, 1.024, 0.996, 0.968, 0.941, 0.913],
  [136.9, 1.097, 1.069, 1.041, 1.013, 0.986, 0.958, 0.931], [137.5, 1.088, 1.061, 1.033, 1.007, 0.979, 0.952, 0.924],
  [138.1, 1.103, 1.074, 1.046, 1.018, 0.991, 0.963, 0.936], [138.7, 1.091, 1.064, 1.037, 1.009, 0.982, 0.954, 0.927],
  [139.3, 1.096, 1.069, 1.043, 1.014, 0.987, 0.959, 0.932], [139.9, 1.086, 1.061, 1.033, 1.006, 0.978, 0.951, 0.924],
  [140.5, 1.104, 1.077, 1.049, 1.022, 0.994, 0.967, 0.941], [141.1, 1.093, 1.067, 1.039, 1.012, 0.984, 0.957, 0.929],
  [141.7, 1.107, 1.081, 1.053, 1.026, 0.998, 0.971, 0.944], [142.3, 1.098, 1.072, 1.044, 1.017, 0.989, 0.962, 0.934],
  [142.9, 1.106, 1.079, 1.052, 1.024, 0.997, 0.969, 0.942], [143.5, 1.097, 1.071, 1.043, 1.016, 0.988, 0.961, 0.936],
  [144.1, 1.113, 1.086, 1.058, 1.031, 1.003, 0.976, 0.949], [144.7, 1.102, 1.076, 1.049, 1.021, 0.994, 0.966, 0.943],
  [145.3, 1.116, 1.089, 1.062, 1.034, 1.007, 0.979, 0.952], [145.9, 1.107, 1.081, 1.053, 1.027, 0.999, 0.972, 0.946],
  [146.5, 1.118, 1.091, 1.064, 1.036, 1.009, 0.982, 0.954], [147.1, 1.109, 1.083, 1.056, 1.029, 1.001, 0.974, 0.947],
  [147.7, 1.121, 1.094, 1.067, 1.039, 1.012, 0.984, 0.957], [148.3, 1.113, 1.086, 1.059, 1.032, 1.004, 0.977, 0.949],
  [148.9, 1.118, 1.092, 1.064, 1.037, 1.009, 0.982, 0.955], [149.5, 1.107, 1.081, 1.054, 1.026, 0.999, 0.971, 0.944],
  [150.1, 1.119, 1.093, 1.066, 1.038, 1.011, 0.983, 0.956], [150.7, 1.111, 1.084, 1.057, 1.029, 1.002, 0.974, 0.947],
  [151.3, 1.117, 1.091, 1.063, 1.036, 1.008, 0.981, 0.953], [151.9, 1.104, 1.078, 1.051, 1.023, 0.996, 0.968, 0.941],
  [152.5, 1.113, 1.086, 1.058, 1.031, 1.003, 0.976, 0.949, 0.921], [153.1, 1.091, 1.064, 1.037, 1.009, 0.982, 0.954, 0.927],
  [153.7, 1.083, 1.057, 1.029, 1.002, 0.974, 0.947, 0.919, 0.896], [154.3, 1.076, 1.049, 1.022, 0.994, 0.967, 0.939, 0.912],
  [154.9, 1.087, 1.059, 1.031, 1.004, 0.976, 0.949, 0.921, 0.902], [155.5, 1.079, 1.052, 1.024, 0.997, 0.969, 0.942, 0.917],
  [156.1, 1.093, 1.066, 1.038, 1.011, 0.983, 0.956, 0.929], [156.7, 1.087, 1.061, 1.034, 1.006, 0.979, 0.951, 0.924],
  [157.3, 1.103, 1.076, 1.048, 1.021, 0.993, 0.966, 0.941], [157.9, 1.094, 1.068, 1.041, 1.013, 0.986, 0.958, 0.934],
  [158.5, 1.108, 1.081, 1.053, 1.026, 0.998, 0.971, 0.946], [159.1, 1.101, 1.074, 1.047, 1.019, 0.992, 0.964, 0.938],
  [159.7, 1.112, 1.086, 1.058, 1.031, 1.003, 0.976, 0.949], [160.3, 1.094, 1.068, 1.041, 1.013, 0.986, 0.958, 0.931],
  [160.9, 1.086, 1.059, 1.032, 1.004, 0.977, 0.949, 0.922], [161.5, 1.091, 1.064, 1.036, 1.009, 0.981, 0.954, 0.926],
  [162.1, 1.078, 1.052, 1.024, 0.997, 0.969, 0.942, 0.914], [162.7, 1.087, 1.061, 1.033, 1.006, 0.978, 0.951, 0.924],
  [163.3, 1.073, 1.046, 1.019, 0.991, 0.964, 0.936, 0.909], [163.9, 1.081, 1.054, 1.026, 0.999, 0.971, 0.944, 0.917, 0.893],
  [164.5, 1.069, 1.042, 1.014, 0.987, 0.959, 0.932, 0.906], [165.1, 1.094, 1.067, 1.039, 1.012, 0.984, 0.957, 0.929],
  [165.7, 1.106, 1.078, 1.051, 1.023, 0.996, 0.968, 0.941, 0.914], [166.3, 1.113, 1.086, 1.058, 1.031, 1.003, 0.976, 0.948],
  [166.9, 1.124, 1.097, 1.069, 1.042, 1.014, 0.987, 0.959, 0.932], [167.5, 1.114, 1.087, 1.059, 1.032, 1.004, 0.977, 0.949],
  [168.1, 1.103, 1.076, 1.048, 1.021, 0.993, 0.966, 0.938, 0.913], [168.7, 1.087, 1.059, 1.032, 1.004, 0.977, 0.949, 0.921],
  [169.3, 1.074, 1.047, 1.019, 0.992, 0.964, 0.937, 0.909], [169.9, 1.138, 1.106, 1.074, 1.043, 1.012],
  [170.5, 1.231, 1.203, 1.174, 1.146, 1.118, 1.089, 1.061], [171.1, 1.259, 1.231, 1.202, 1.174, 1.146, 1.117, 1.089],
  [171.7, 1.276, 1.248, 1.219, 1.191, 1.163, 1.134, 1.106, 1.077], [172.3, 1.269, 1.241, 1.212, 1.184, 1.156, 1.127, 1.099, 1.071],
  [172.9, 1.273, 1.244, 1.216, 1.188, 1.159, 1.131, 1.103], [173.5, 1.264, 1.236, 1.208, 1.179, 1.151, 1.123, 1.094]
];

const zip = (xs, ys) => xs.map((x, i) => ({ x, y: ys[i] }));
const spread = cols => cols.flatMap(([x, ...ys]) => ys.map(y => ({ x, y })));

const RED = 'rgb(214,36,36)';
const BLUE = 'rgb(34,34,228)';
const FONT = "'DejaVu Sans', sans-serif";
Chart.defaults.font.family = FONT;
Chart.defaults.color = '#000';

// IDL style frame: box with inward major/minor ticks on all four sides
const idlFrame = {
  id: 'idlFrame',
  afterDatasetsDraw(chart, args, o) {
    const { ctx, chartArea: a, scales: { x, y } } = chart;
    ctx.save();
    ctx.strokeStyle = '#000';
    ctx.lineWidth = 2;
    ctx.strokeRect(a.left, a.top, a.right - a.left, a.bottom - a.top);
    ctx.beginPath();
    const nx = Math.round((x.max - x.min) / o.xMinor);
    for (let i = 0; i <= nx; i++) {
      const v = x.min + i * o.xMinor;
      const len = Math.abs(v / o.xMajor - Math.round(v / o.xMajor)) < 1e-6 ? o.xMajorLen : o.xMinorLen;
      const px = x.getPixelForValue(v);
      ctx.moveTo(px, a.top); ctx.lineTo(px, a.top + len);
      ctx.moveTo(px, a.bottom); ctx.lineTo(px, a.bottom - len);
    }
    const ny = Math.round((y.max - y.min) / o.yMinor);
    for (let i = 0; i <= ny; i++) {
      const v = y.min + i * o.yMinor;
      const len = Math.abs(v / o.yMajor - Math.round(v / o.yMajor)) < 1e-6 ? o.yMajorLen : o.yMinorLen;
      const py = y.getPixelForValue(v);
      ctx.moveTo(a.left, py); ctx.lineTo(a.left + len, py);
      ctx.moveTo(a.right, py); ctx.lineTo(a.right - len, py);
    }
    ctx.stroke();
    ctx.restore();
  }
};

// wider glyph spacing for the library's own text, and small per-label shifts like IDL does
const textTweaks = {
  id: 'textTweaks',
  beforeDraw(chart, args, o) {
    chart.ctx.letterSpacing = o.spacing;
    const items = chart.scales.y.getLabelItems();
    if (!items._shifted) {
      items.forEach((it, i) => { it.options.translation[1] += o.yShift[i] || 0; });
      items._shifted = true;
    }
  }
};

// free text: title and the colour notes
const notes = {
  id: 'notes',
  afterDraw(chart, args, o) {
    const ctx = chart.ctx;
    ctx.save();
    ctx.textBaseline = 'alphabetic';
    o.items.forEach(t => {
      ctx.font = t.size + 'px ' + FONT;
      ctx.letterSpacing = t.spacing;
      ctx.fillStyle = t.color;
      ctx.textAlign = t.align || 'left';
      ctx.fillText(t.text, t.x, t.y);
    });
    ctx.restore();
  }
};

const yAxisBase = (min, max, step, digits, title, titlePad) => ({
  min, max,
  grid: { display: false, drawTicks: false },
  border: { display: false },
  ticks: { stepSize: step, padding: 13, color: '#000', font: { size: 27 }, callback: v => v.toFixed(digits) },
  title: { display: true, text: title, color: '#000', font: { size: 27 }, padding: { top: titlePad, bottom: 0 } },
  afterFit(s) { s.width = 142; s.paddingTop = 0; s.paddingBottom = 0; }
});

const crossStyle = (color, width) => ({ pointStyle: 'cross', pointRadius: 6.5, borderColor: color, borderWidth: width });

new Chart(document.getElementById('countsChart'), {
  type: 'scatter',
  data: {
    datasets: [
      { label: 'QE Correction Curve', data: zip(corrWave, corrCounts), showLine: true, borderColor: RED,
        borderWidth: 2.8, pointRadius: 0, cubicInterpolationMode: 'monotone', order: 0 },
      { label: 'PKS2155-304', data: spread(pksCols).concat(spread(pksColsB)), ...crossStyle(BLUE, 1.8), order: 1 },
      { label: 'HZ43', data: spread(hzCols).concat(spread(hzColsB)), ...crossStyle('#000', 2.1), order: 2 },
      { label: 'unity', data: [{ x: waveMin, y: unityLevel }, { x: waveMax, y: unityLevel }], showLine: true,
        borderColor: '#000', borderWidth: 1, pointRadius: 0, order: 3 }
    ]
  },
  options: {
    responsive: false,
    animation: false,
    events: [],
    layout: { padding: { left: 0, right: 3, top: 45, bottom: 2 } },
    scales: {
      x: { type: 'linear', min: waveMin, max: waveMax, display: false },
      y: yAxisBase(0.7, 1.3, 0.1, 1, 'Mean Counts / bin', 31)
    },
    plugins: {
      legend: { display: false },
      tooltip: { enabled: false },
      idlFrame: { xMinor: 5, xMajor: 20, xMinorLen: 5, xMajorLen: 10, yMinor: 0.01, yMajor: 0.1, yMinorLen: 13, yMajorLen: 24 },
      textTweaks: { spacing: '1.5px', yShift: [0, 6, 3, 3, 4, 4, 12] },
      notes: { items: [
        { text: 'HZ43 and PKS2155-304 Counts, Models, QE Correction Curve', x: 730, y: 30, size: 26, spacing: '3px', color: '#000', align: 'center' },
        { text: 'Black: HZ43 S/N=27', x: 825, y: 83, size: 23, spacing: '1px', color: '#000' },
        { text: 'Blue: PKS2155-304 S/N=27', x: 825, y: 118, size: 23, spacing: '1px', color: BLUE },
        { text: 'Red: QE Correction Curve', x: 825, y: 437, size: 23, spacing: '1px', color: RED }
      ] }
    }
  },
  plugins: [idlFrame, textTweaks, notes]
});

new Chart(document.getElementById('qeChart'), {
  type: 'scatter',
  data: {
    datasets: [
      { label: 'Corrected QE', data: zip(newWave, newQE), showLine: true, borderColor: RED,
        borderWidth: 2.2, pointRadius: 0, order: 0 },
      { label: 'Previous QE', data: zip(prevWave, prevQE), showLine: true, borderColor: '#111',
        borderWidth: 2.2, pointRadius: 0, order: 1 }
    ]
  },
  options: {
    responsive: false,
    animation: false,
    events: [],
    layout: { padding: { left: 0, right: 3, top: 1, bottom: 0 } },
    scales: {
      x: {
        type: 'linear', min: waveMin, max: waveMax,
        grid: { display: false, drawTicks: false },
        border: { display: false },
        ticks: { stepSize: 20, includeBounds: false, padding: 20, color: '#000', font: { size: 27 } },
        title: { display: true, text: 'Wavelength [AA]', color: '#000', font: { size: 27 }, padding: { top: 0, bottom: 2 } },
        afterFit(s) { s.height = 91; s.paddingLeft = 0; s.paddingRight = 0; }
      },
      y: yAxisBase(0.10, 0.35, 0.05, 2, 'Raw QE', 8)
    },
    plugins: {
      legend: { display: false },
      tooltip: { enabled: false },
      idlFrame: { xMinor: 5, xMajor: 20, xMinorLen: 5, xMajorLen: 10, yMinor: 0.01, yMajor: 0.05, yMinorLen: 13, yMajorLen: 24 },
      textTweaks: { spacing: '1.5px', yShift: [-8, 1, 1, 3, 5, 14] },
      notes: { items: [
        { text: 'Black: Previous QE', x: 825, y: 314, size: 23, spacing: '1px', color: '#000' },
        { text: 'Red: Corrected QE', x: 825, y: 344, size: 23, spacing: '1px', color: RED }
      ] }
    }
  },
  plugins: [idlFrame, textTweaks, notes]
});
</script>
</body>
</html>
